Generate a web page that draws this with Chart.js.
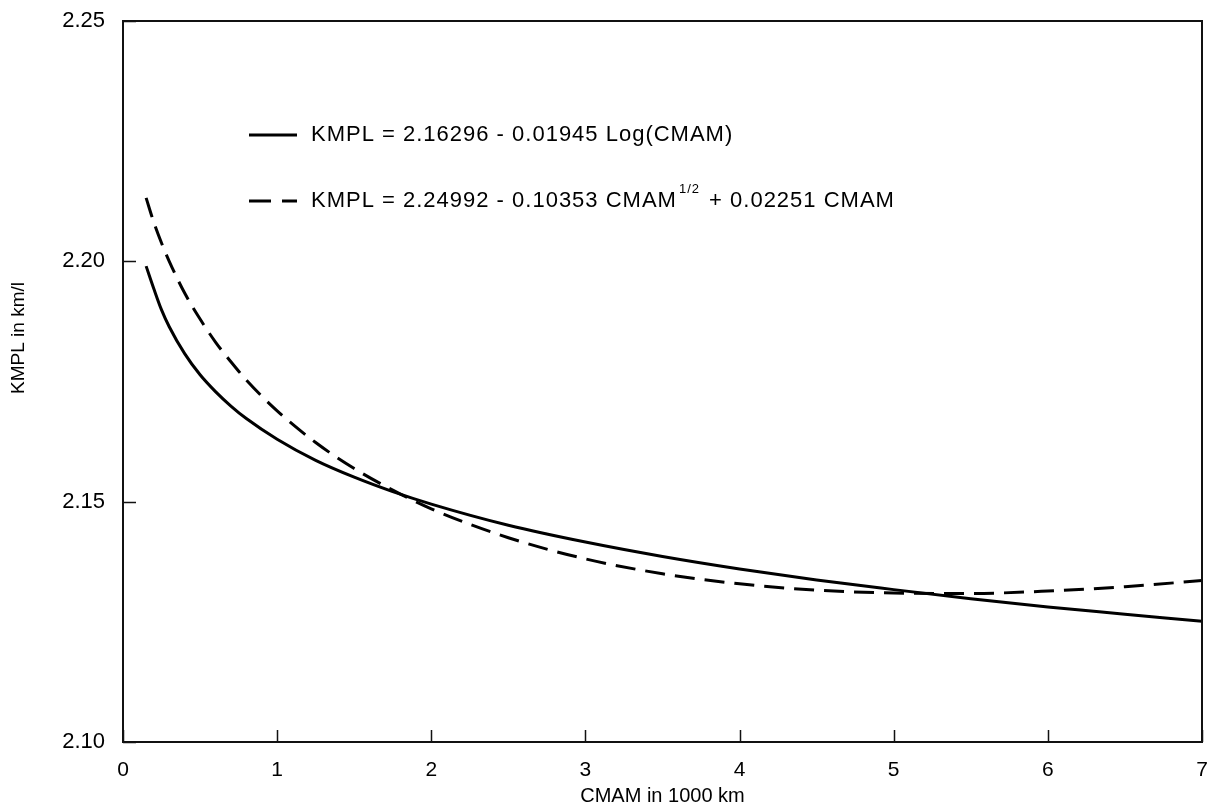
<!DOCTYPE html>
<html>
<head>
<meta charset="utf-8">
<script src="https://cdn.jsdelivr.net/npm/chart.js@4/dist/chart.umd.min.js"></script>
<style>
  html, body { margin: 0; padding: 0; background: #fff; }
  #wrap { width: 1214px; height: 810px; }
</style>
</head>
<body>
<div id="wrap"><canvas id="chart1" width="1214" height="810"></canvas></div>
<script>
/* Values */
/////////////////////////////////////////////////////////////////
const cmam = [0.15, 0.2, 0.25, 0.3, 0.4, 0.5, 0.6, 0.7, 0.8, 1, 1.25, 1.5, 1.75, 2, 2.5, 3, 3.5, 4, 4.5, 5, 5.5, 6, 6.5, 7];
const kmplLog = [2.1990, 2.1943, 2.1899, 2.1864, 2.1808, 2.1764, 2.1729, 2.1699, 2.1673, 2.1630,
    2.1586, 2.1551, 2.1521, 2.1495, 2.1451, 2.1416, 2.1386, 2.1360, 2.1337, 2.1317, 2.1298, 2.1281, 2.1266, 2.1251];
const kmplRoot = [2.2132, 2.2081, 2.2038, 2.2000, 2.1934, 2.1880, 2.1832, 2.1791, 2.1753, 2.1689,
    2.1623, 2.1569, 2.1524, 2.1485, 2.1425, 2.1381, 2.1350, 2.1329, 2.1316, 2.1310, 2.1309, 2.1314, 2.1323, 2.1336];
const seriesLabels = ['KMPL = 2.16296 - 0.01945 Log(CMAM)', 'KMPL = 2.24992 - 0.10353 CMAM^1/2 + 0.02251 CMAM'];
const xTicks = [0, 1, 2, 3, 4, 5, 6, 7];
const yTicks = [2.10, 2.15, 2.20, 2.25];
const yTitle = 'KMPL in km/l';

const FONT = '"Liberation Sans", Arial, Helvetica, sans-serif';

function toPoints(xs, ys) {
    let pts = [];
    for (let i = 0; i < xs.length; i++) {
        pts.push({x: xs[i], y: ys[i]});
    }
    return pts;
}

/* Frame box, inward tick marks, y title and the in-plot legend */
/////////////////////////////////////////////////////////////////
const framePlugin = {
    id: 'frame',
    afterDraw(chart) {
        const c = chart.ctx;
        const a = chart.chartArea;
        const xs = chart.scales.x;
        const ys = chart.scales.y;
        c.save();
        c.strokeStyle = '#111';
        c.lineWidth = 2;
        c.strokeRect(a.left, a.top, a.right - a.left, a.bottom - a.top);
        c.lineWidth = 1.5;
        c.beginPath();
        xTicks.forEach(v => {
            const px = Math.round(xs.getPixelForValue(v)) + 0.5;
            c.moveTo(px, a.bottom);
            c.lineTo(px, a.bottom - 12);
        });
        yTicks.forEach(v => {
            const py = Math.round(ys.getPixelForValue(v)) + 0.5;
            c.moveTo(a.left, py);
            c.lineTo(a.left + 13, py);
        });
        c.stroke();

        // y axis title, sits a bit above the middle in the original
        c.save();
        c.translate(19, a.top + 317);
        c.rotate(-Math.PI / 2);
        c.fillStyle = '#000';
        c.font = '19px ' + FONT;
        c.textAlign = 'center';
        c.textBaseline = 'middle';
        c.fillText(yTitle, 0, 0);
        c.restore();

        // legend
        const lx = a.left + 126;
        const rows = [a.top + 114, a.top + 180];
        c.strokeStyle = '#000';
        c.lineWidth = 3;
        c.fillStyle = '#000';
        c.textBaseline = 'middle';
        c.letterSpacing = '1px';
        seriesLabels.forEach((lab, i) => {
            const y = rows[i];
            c.beginPath();
            if (i === 1) c.setLineDash([22, 11]); else c.setLineDash([]);
            c.moveTo(lx, y);
            c.lineTo(lx + 48, y);
            c.stroke();
            c.setLineDash([]);
            let tx = lx + 62;
            c.font = '22px ' + FONT;
            const k = lab.indexOf('^');
            if (k < 0) {
                c.fillText(lab, tx, y);
            } else {
                const before = lab.slice(0, k);
                const rest = lab.slice(k + 1);
                const sp = rest.indexOf(' ');
                const sup = rest.slice(0, sp);
                const after = rest.slice(sp);
                c.fillText(before, tx, y);
                tx += c.measureText(before).width;
                c.font = '13px ' + FONT;
                c.fillText(sup, tx + 2, y - 12);
                tx += c.measureText(sup).width + 4;
                c.font = '22px ' + FONT;
                c.fillText(after, tx, y);
            }
        });
        c.restore();
    }
};

/////////////////////////////////////////////////////////////////
const ctx = document.getElementById('chart1');
const chart1 = new Chart(ctx, {
    type: 'scatter',
    data: {
        datasets: [{
            label: seriesLabels[0],
            data: toPoints(cmam, kmplLog),
            showLine: true,
            borderColor: '#000',
            borderWidth: 3,
            pointRadius: 0,
            cubicInterpolationMode: 'monotone'
        }, {
            label: seriesLabels[1],
            data: toPoints(cmam, kmplRoot),
            showLine: true,
            borderColor: '#000',
            borderWidth: 3,
            borderDash: [20, 10],
            pointRadius: 0,
            cubicInterpolationMode: 'monotone'
        }]
    },
    options: {
        responsive: false,
        animation: false,
        layout: { padding: { top: 21, right: 12, left: 0, bottom: 0 } },
        plugins: {
            legend: { display: false },
            tooltip: { enabled: false }
        },
        scales: {
            x: {
                type: 'linear',
                min: 0,
                max: 7,
                afterFit(scale) {
                    scale.height = 68;
                    scale.paddingLeft = 0;
                    scale.paddingRight = 0;
                },
                afterBuildTicks(scale) { scale.ticks = xTicks.map(v => ({value: v})); },
                grid: { display: false, drawTicks: false },
                border: { display: false },
                ticks: {
                    color: '#000',
                    padding: 16,
                    font: { family: FONT, size: 21 },
                    callback: v => String(v)
                },
                title: {
                    display: true,
                    text: 'CMAM in 1000 km',
                    color: '#000',
                    font: { family: FONT, size: 20 },
                    padding: { top: 0, bottom: 2 }
                }
            },
            y: {
                type: 'linear',
                min: 2.10,
                max: 2.25,
                afterFit(scale) {
                    scale.width = 123;
                    scale.paddingTop = 0;
                    scale.paddingBottom = 0;
                },
                afterBuildTicks(scale) { scale.ticks = yTicks.map(v => ({value: v})); },
                grid: { display: false, drawTicks: false },
                border: { display: false },
                ticks: {
                    color: '#000',
                    padding: 18,
                    font: { family: FONT, size: 22 },
                    callback: v => v.toFixed(2)
                },
                title: { display: false }
            }
        }
    },
    plugins: [framePlugin]
});
/////////////////////////////////////////////////////////////////
</script>
</body>
</html>
